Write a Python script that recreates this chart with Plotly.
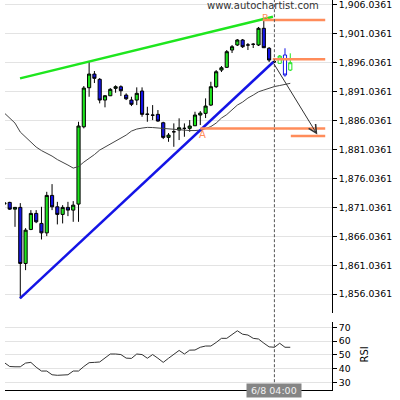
import plotly.graph_objects as go

# ---- data (candle index -1 .. 53) ----
idx = list(range(-1, 54))
opens = [1871.60, 1871.89, 1870.73, 1871.03, 1861.35, 1867.22, 1869.99, 1868.26, 1866.63, 1873.10,
         1871.13, 1869.82, 1871.03, 1870.56, 1871.60, 1884.95, 1891.70, 1894.06, 1893.15, 1889.57,
         1890.31, 1891.59, 1891.87, 1890.43, 1889.57, 1889.57, 1891.13, 1887.15, 1886.98, 1887.10,
         1885.65, 1883.12, 1884.09, 1884.38, 1884.68, 1884.68, 1885.13, 1886.98, 1887.27, 1888.70,
         1891.87, 1894.75, 1895.22, 1898.21, 1899.08, 1899.94, 1899.08, 1899.20, 1899.08, 1901.96,
         1898.51, 1896.19, 1895.91, 1897.35, 1894.75]
highs = [1872.00, 1872.00, 1871.10, 1871.77, 1867.45, 1870.56, 1870.56, 1871.13, 1873.72, 1875.05,
         1871.99, 1871.42, 1871.99, 1872.11, 1885.82, 1891.99, 1896.19, 1894.58, 1893.37, 1890.43,
         1891.64, 1892.11, 1892.11, 1890.73, 1890.14, 1891.76, 1891.76, 1888.41, 1888.70, 1887.84,
         1885.82, 1883.87, 1885.54, 1886.41, 1885.54, 1886.11, 1887.55, 1887.67, 1889.86, 1892.73,
         1894.75, 1895.45, 1898.21, 1899.08, 1900.11, 1900.11, 1899.42, 1899.42, 1902.19, 1903.74,
         1898.73, 1896.48, 1897.35, 1898.51, 1897.64]
lows = [1871.40, 1870.60, 1867.67, 1855.30, 1860.19, 1867.10, 1868.31, 1865.49, 1866.07, 1870.56,
        1868.09, 1868.26, 1869.52, 1868.54, 1868.54, 1884.68, 1890.14, 1892.51, 1889.00, 1888.31,
        1890.26, 1890.83, 1890.26, 1889.57, 1888.53, 1888.70, 1886.68, 1885.82, 1886.11, 1885.82,
        1882.83, 1882.36, 1881.50, 1882.66, 1883.23, 1884.09, 1885.08, 1885.25, 1886.46, 1888.53,
        1891.64, 1894.41, 1895.10, 1897.69, 1898.90, 1898.56, 1898.21, 1898.56, 1898.90, 1898.56,
        1896.14, 1895.96, 1895.91, 1893.60, 1894.58]
closes = [1871.80, 1870.73, 1871.03, 1861.35, 1867.10, 1869.99, 1868.54, 1866.63, 1873.10, 1871.13,
          1869.82, 1871.03, 1870.56, 1871.42, 1885.08, 1891.64, 1894.06, 1893.32, 1889.57, 1890.31,
          1891.42, 1891.87, 1891.18, 1889.79, 1888.83, 1890.73, 1887.10, 1887.10, 1886.95, 1885.94,
          1883.12, 1883.52, 1884.09, 1884.78, 1884.68, 1885.08, 1886.98, 1887.32, 1888.53, 1891.87,
          1894.46, 1895.15, 1897.92, 1898.78, 1899.94, 1898.78, 1899.08, 1899.20, 1901.96, 1898.61,
          1896.48, 1896.19, 1897.17, 1893.89, 1896.02]
ma = [1887.32, 1886.46, 1885.59, 1884.04, 1883.18, 1882.31, 1881.45, 1880.84, 1880.41, 1879.89,
      1879.29, 1878.85, 1878.34, 1877.82, 1878.08, 1878.85, 1879.46, 1880.15, 1880.93, 1881.45,
      1881.97, 1882.48, 1883.00, 1883.52, 1884.21, 1884.56, 1884.73, 1884.85, 1884.82, 1884.73,
      1884.68, 1884.59, 1884.52, 1884.47, 1884.38, 1884.30, 1884.30, 1884.38, 1884.64, 1884.99,
      1885.59, 1886.46, 1887.06, 1887.84, 1888.70, 1889.22, 1889.92, 1890.43, 1891.00, 1891.30,
      1891.64, 1891.90, 1892.08, 1892.25, 1892.46]
rsi = [44.3, 41.5, 41.3, 41.3, 44.0, 44.5, 41.0, 38.2, 38.2, 35.5,
       35.1, 35.1, 35.5, 38.2, 38.2, 41.5, 44.3, 44.5, 44.8, 47.7,
       50.6, 50.6, 50.2, 47.6, 47.4, 50.6, 50.2, 47.5, 50.2, 47.5,
       44.5, 47.5, 50.5, 53.2, 50.6, 53.4, 53.5, 55.5, 56.4, 56.4,
       59.0, 62.0, 62.0, 65.0, 67.5, 65.0, 64.4, 62.0, 61.5, 58.5,
       55.8, 55.5, 58.4, 55.5, 55.5]
n_after = 3  # candles drawn hollow after the pattern

# pattern lines (index, price)
resist_x = [1.95, 49.73]
resist_y = [1893.32, 1903.97]
support_x = [1.95, 49.79]
support_y = [1855.30, 1896.14]
# forecast levels
level_y = [1903.40, 1896.60, 1884.64, 1883.35]
level_x0 = [47.8, 49.7, 36.0, 53.1]
level_x1 = 59.6
arrow_from = (49.7, 1896.14)
arrow_to = (58.1, 1883.60)
point_A = (36.5, 1884.64)
point_B = (48.4, 1903.74)
cursor_idx = 50
cursor_label = "6/8 04:00"

price_ticks = [1856.0361 + 5 * k for k in range(11)]
rsi_ticks = [30, 40, 50, 60, 70]

GREEN = "#1ee61e"
BLUE = "#1414e6"
ORANGE = "rgb(255,140,90)"
FONT = "DejaVu Sans"

fig = go.Figure()

fig.add_trace(go.Scatter(x=idx, y=ma, mode="lines", line=dict(color="#444", width=1),
                         xaxis="x", yaxis="y", hoverinfo="skip"))

k = len(idx) - n_after
fig.add_trace(go.Candlestick(
    x=idx[:k], open=opens[:k], high=highs[:k], low=lows[:k], close=closes[:k],
    increasing=dict(line=dict(color="black", width=1), fillcolor=GREEN),
    decreasing=dict(line=dict(color="black", width=1), fillcolor=BLUE),
    whiskerwidth=0, xaxis="x", yaxis="y"))
fig.add_trace(go.Candlestick(
    x=idx[k:], open=opens[k:], high=highs[k:], low=lows[k:], close=closes[k:],
    increasing=dict(line=dict(color=GREEN, width=1), fillcolor="white"),
    decreasing=dict(line=dict(color=BLUE, width=1), fillcolor="white"),
    whiskerwidth=0, xaxis="x", yaxis="y"))

fig.add_trace(go.Scatter(x=resist_x, y=resist_y, mode="lines", line=dict(color=GREEN, width=2.5),
                         xaxis="x", yaxis="y"))
fig.add_trace(go.Scatter(x=support_x, y=support_y, mode="lines", line=dict(color=BLUE, width=2.5),
                         xaxis="x", yaxis="y"))
for ly, lx0 in zip(level_y, level_x0):
    fig.add_trace(go.Scatter(x=[lx0, level_x1], y=[ly, ly], mode="lines",
                             line=dict(color=ORANGE, width=2.5), xaxis="x", yaxis="y"))

fig.add_trace(go.Scatter(x=idx, y=rsi, mode="lines", line=dict(color="#333", width=1),
                         xaxis="x2", yaxis="y2"))

fig.add_shape(type="line", xref="x", yref="paper", x0=cursor_idx, x1=cursor_idx, y0=0.02, y1=1,
              line=dict(color="#555", width=1, dash="3px,2px"))

fig.add_annotation(x=arrow_to[0], y=arrow_to[1], ax=arrow_from[0], ay=arrow_from[1],
                   xref="x", yref="y", axref="x", ayref="y", showarrow=True, text="",
                   arrowhead=5, arrowsize=1.6, arrowwidth=1, arrowcolor="#333")
fig.add_annotation(x=point_A[0], y=point_A[1], xref="x", yref="y", text="A", showarrow=False,
                   yshift=-6, font=dict(family=FONT, size=10, color=ORANGE))
fig.add_annotation(x=point_B[0], y=point_B[1], xref="x", yref="y", text="B", showarrow=False,
                   yshift=1, font=dict(family=FONT, size=9.5, color=ORANGE))
fig.add_annotation(x=0.7875, y=0.985, xref="paper", yref="paper", text="www.autochartist.com",
                   xanchor="center", yanchor="middle",
                   showarrow=False, font=dict(family=FONT, size=10, color="#333"))
fig.add_annotation(x=1.0995, y=0.09, xref="paper", yref="paper", text="RSI", textangle=-90,
                   xanchor="center", yanchor="middle",
                   showarrow=False, font=dict(family=FONT, size=10, color="black"))
fig.add_annotation(x=cursor_idx, y=0, xref="x", yref="paper", text=" " + cursor_label + " ",
                   showarrow=False, bgcolor="#858585", borderpad=1, yanchor="middle",
                   font=dict(family=FONT, size=9.5, color="#f2f2f2"))

axis_common = dict(showline=True, linecolor="black", linewidth=1, ticks="outside", ticklen=4,
                   tickcolor="black", tickfont=dict(family=FONT, size=9.3, color="black"),
                   ticklabeloverflow="allow",
                   showgrid=True, gridcolor="#e3e3e3", gridwidth=1, zeroline=False, side="right")

fig.update_layout(
    width=400, height=400, margin=dict(l=5, r=68, t=0, b=10),
    paper_bgcolor="white", plot_bgcolor="white", showlegend=False, boxgap=0.15,
    xaxis=dict(domain=[0, 1], anchor="y", range=[-0.888, 60.88], showticklabels=False,
               showgrid=False, zeroline=False, showline=False, ticks="", rangeslider=dict(visible=False)),
    xaxis2=dict(domain=[0, 1], anchor="y2", matches="x", showticklabels=False, showgrid=False,
                zeroline=False, showline=True, linecolor="black", ticks="", rangeslider=dict(visible=False)),
    yaxis=dict(domain=[0.197, 1], anchor="x", range=[1852.76, 1906.85], tickvals=price_ticks,
               tickformat=",.4f", **axis_common),
    yaxis2=dict(domain=[0, 0.175], anchor="x2", range=[24.4, 74.07], tickvals=rsi_ticks, **axis_common),
)

fig.write_html("out.html")
